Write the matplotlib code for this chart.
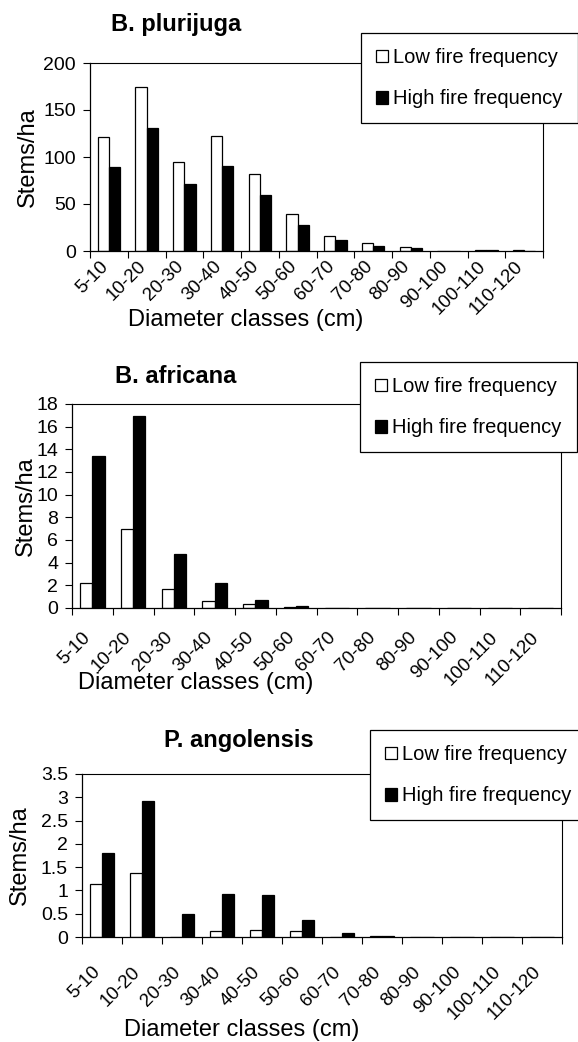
import matplotlib
matplotlib.use("Agg")
import matplotlib.pyplot as plt
from matplotlib.patches import Patch
from matplotlib.ticker import FuncFormatter
import numpy as np

plt.rcParams['font.family'] = ['Liberation Sans', 'DejaVu Sans']

# diameter classes (cm)
classes = ['5-10', '10-20', '20-30', '30-40', '40-50', '50-60', '60-70',
           '70-80', '80-90', '90-100', '100-110', '110-120']

# stems/ha
plurijuga_low = [121, 174, 95, 122, 82, 39, 16, 8, 4, 0.5, 1, 1]
plurijuga_high = [89, 131, 71, 90, 60, 28, 12, 5, 3, 0.5, 1, 0]

africana_low = [2.2, 7.0, 1.7, 0.6, 0.35, 0.1, 0.02, 0, 0, 0, 0, 0]
africana_high = [13.4, 16.9, 4.8, 2.2, 0.7, 0.2, 0.03, 0, 0, 0, 0, 0]

angolensis_low = [1.13, 1.37, 0, 0.12, 0.15, 0.12, 0, 0.02, 0, 0, 0, 0]
angolensis_high = [1.80, 2.92, 0.49, 0.93, 0.91, 0.36, 0.09, 0.03, 0, 0, 0, 0]

titles = ['B. plurijuga', 'B. africana', 'P. angolensis']
ymax = [200, 18, 3.5]
ystep = [50, 2, 0.5]

W, H = 578, 1042
fig = plt.figure(figsize=(W / 100, H / 100), dpi=100)


def px_box(x0, y0, x1, y1):
    # pixel box (top-left origin) -> figure fraction rect
    return [x0 / W, 1 - y1 / H, (x1 - x0) / W, (y1 - y0) / H]


# layout of each panel in pixels: axes box, title, ylabel, xlabel, legend corner, tick pad
panels = [
    dict(box=(90, 63, 543, 251), title=(176, 25), ylab=(28, 157), xlab=(246, 320), leg=(361, 33), pad=5),
    dict(box=(72, 404, 561, 608), title=(176, 377), ylab=(26, 506), xlab=(196, 683), leg=(360, 362), pad=15),
    dict(box=(82, 774, 562, 937), title=(239, 740), ylab=(20, 855), xlab=(242, 1030), leg=(370, 730), pad=19),
]

lows = [plurijuga_low, africana_low, angolensis_low]
highs = [plurijuga_high, africana_high, angolensis_high]

x = np.arange(len(classes))
bw = 0.3

for i, p in enumerate(panels):
    ax = fig.add_axes(px_box(*p['box']))
    ax.bar(x - bw / 2, lows[i], bw, color='white', edgecolor='black', linewidth=0.9)
    ax.bar(x + bw / 2, highs[i], bw, color='black', edgecolor='black', linewidth=0.9)

    ax.set_xlim(-0.5, len(classes) - 0.5)
    ax.set_ylim(0, ymax[i])
    ax.set_yticks(np.arange(0, ymax[i] + ystep[i] / 2, ystep[i]))
    ax.yaxis.set_major_formatter(FuncFormatter(lambda v, pos: '%g' % v))

    # tick marks on class boundaries, labels on class centres
    ax.set_xticks(np.arange(len(classes) + 1) - 0.5)
    ax.set_xticklabels([])
    ax.set_xticks(x - 0.25, minor=True)
    ax.set_xticklabels(classes, minor=True, rotation=45, ha='right',
                       rotation_mode='anchor', fontsize=13.5)
    ax.tick_params(axis='x', which='minor', length=0, pad=p['pad'])
    ax.tick_params(axis='x', which='major', length=5, width=0.8, direction='out')
    ax.tick_params(axis='y', length=5, width=0.8, labelsize=14, pad=5)

    for s in ['left', 'bottom']:
        ax.spines[s].set_linewidth(0.9)
    for s in ['top', 'right']:
        ax.spines[s].set_linestyle((0, (1, 1)))
        ax.spines[s].set_linewidth(0.8)

    fig.text(p['title'][0] / W, 1 - p['title'][1] / H, titles[i],
             fontsize=17, fontweight='bold', ha='center', va='center')
    fig.text(p['ylab'][0] / W, 1 - p['ylab'][1] / H, 'Stems/ha',
             fontsize=17, rotation=90, ha='center', va='center')
    fig.text(p['xlab'][0] / W, 1 - p['xlab'][1] / H, 'Diameter classes (cm)',
             fontsize=17, ha='center', va='center')

    handles = [Patch(facecolor='white', edgecolor='black', linewidth=0.9),
               Patch(facecolor='black', edgecolor='black', linewidth=0.9)]
    leg = ax.legend(handles, ['Low fire frequency', 'High fire frequency'],
                    loc='upper left',
                    bbox_to_anchor=(p['leg'][0] / W, 1 - p['leg'][1] / H),
                    bbox_transform=fig.transFigure, borderaxespad=0,
                    fontsize=14.5, frameon=True, fancybox=False, shadow=False,
                    handlelength=0.6, handleheight=0.6, handletextpad=0.25,
                    labelspacing=1.1, borderpad=0.75)
    leg.get_frame().set_edgecolor('black')
    leg.get_frame().set_linewidth(0.9)
    leg.get_frame().set_alpha(1)

fig.savefig('out.png', dpi=100)
